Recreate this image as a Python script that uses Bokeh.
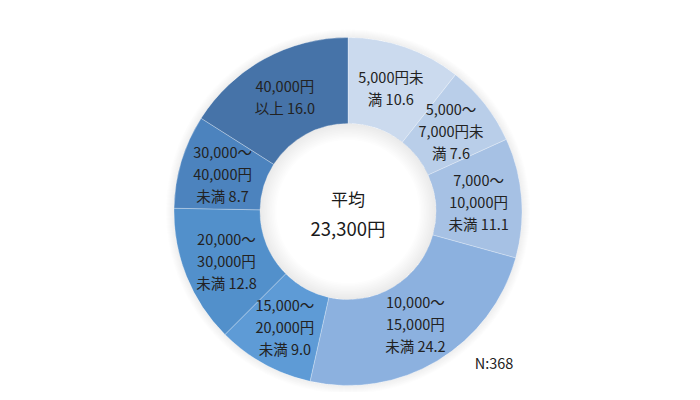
import math
from bokeh.plotting import figure
from bokeh.models import Range1d, ColumnDataSource
from bokeh.core.properties import value
from bokeh.embed import file_html
from bokeh.resources import INLINE

# ---- data ----
categories = [
    "5,000円未\n満 10.6",
    "5,000～\n7,000円未\n満 7.6",
    "7,000～\n10,000円\n未満 11.1",
    "10,000～\n15,000円\n未満 24.2",
    "15,000～\n20,000円\n未満 9.0",
    "20,000～\n30,000円\n未満 12.8",
    "30,000～\n40,000円\n未満 8.7",
    "40,000円\n以上 16.0",
]
shares = [10.6, 7.6, 11.1, 24.2, 9.0, 12.8, 8.7, 16.0]
colors = ["#cbdaee", "#b9cee9", "#a6c1e4", "#8cb1df", "#5e9bd6", "#5290cb", "#4c83be", "#4673a8"]
center_title = "平均"
center_value = "23,300円"
n_label = "N:368"

FONT = "Noto Sans CJK JP"
W, H = 692, 392
CX, CY = 347.5, 211.0   # pixel position of donut centre in the figure
R_OUT, R_IN = 174.0, 88.0

total = sum(shares)
starts, ends, lx, ly = [], [], [], []
cum = 0.0
for s in shares:
    a0 = math.pi / 2 - 2 * math.pi * cum / total
    a1 = math.pi / 2 - 2 * math.pi * (cum + s) / total
    starts.append(a0)
    ends.append(a1)
    mid = (a0 + a1) / 2
    rl = (R_OUT + R_IN) / 2
    lx.append(rl * math.cos(mid))
    ly.append(rl * math.sin(mid))
    cum += s

p = figure(width=W, height=H, output_backend="svg", toolbar_location=None,
           x_range=Range1d(-CX, W - CX), y_range=Range1d(-(H - CY), CY),
           min_border=0)
p.axis.visible = False
p.grid.visible = False
p.outline_line_color = None
p.background_fill_color = "white"

# soft outer glow
for i in range(8):
    p.annulus(x=0, y=0, inner_radius=R_OUT, outer_radius=R_OUT + 1 + i,
              fill_color="#9a9a9a", fill_alpha=0.02, line_color=None)

src = ColumnDataSource(dict(start=starts, end=ends, color=colors))
p.annular_wedge(x=0, y=0, inner_radius=R_IN, outer_radius=R_OUT,
                start_angle="start", end_angle="end", direction="clock",
                fill_color="color", line_color="white", line_alpha=0.35,
                line_width=0.8, source=src)

# inner shading of the hole
for i in range(10):
    p.annulus(x=0, y=0, inner_radius=R_IN - 2 - i * 1.6, outer_radius=R_IN,
              fill_color="#8a8a8a", fill_alpha=0.016, line_color=None)

lsrc = ColumnDataSource(dict(x=lx, y=ly, t=categories))
p.text(x="x", y="y", text="t", source=lsrc, text_font=value(FONT),
       text_font_size="14.5px", text_color="#222222", text_align="center",
       text_baseline="middle", text_line_height=1.05)

p.text(x=[0], y=[13], text=[center_title], text_font=value(FONT),
       text_font_size="17px", text_color="#1a1a1a", text_align="center",
       text_baseline="middle")
p.text(x=[0], y=[-16], text=[center_value], text_font=value(FONT),
       text_font_size="18.5px", text_color="#1a1a1a", text_align="center",
       text_baseline="middle")
p.text(x=[146], y=[-151], text=[n_label], text_font=value(FONT),
       text_font_size="14.5px", text_color="#222222", text_align="center",
       text_baseline="middle")

open("out.html", "w").write(file_html(p, INLINE))
